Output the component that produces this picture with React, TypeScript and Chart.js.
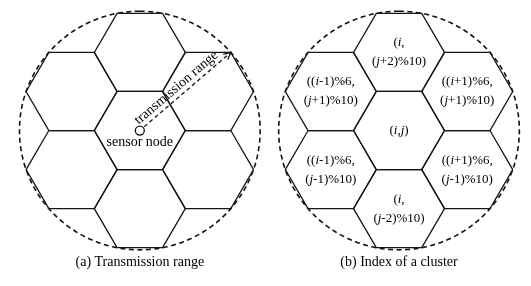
import React, { useEffect, useRef } from "react";
import { Chart, registerables } from "chart.js";

Chart.register(...registerables);

// ---------- data ----------
// cluster offsets in the hexagonal grid (column = i direction, row = j direction)
const clusterCols = [0, 0, 1, 1, 0, -1, -1];
const clusterRows = [0, 2, 1, -1, -2, -1, 1];
const clusterLabels: string[][] = [
  ["(i,j)"],
  ["(i,", "(j+2)%10)"],
  ["((i+1)%6,", "(j+1)%10)"],
  ["((i+1)%6,", "(j-1)%10)"],
  ["(i,", "(j-2)%10)"],
  ["((i-1)%6,", "(j-1)%10)"],
  ["((i-1)%6,", "(j+1)%10)"],
];
const panelCaptions = ["(a) Transmission range", "(b) Index of a cluster"];
const nodeLabel = "sensor node";
const rangeLabel = "transmission range";
// transmission range in units of the hexagon side (reaches the outer vertices)
const transmissionRange = Math.sqrt(7);
// arrow points at the outer vertex of the upper-right cluster
const rangeTarget = { x: 2, y: Math.sqrt(3) };

// ---------- layout ----------
const W = 531;
const H = 286;
const PX_X = 46.5; // pixels per unit horizontally
const PX_Y = 47; // pixels per unit vertically
const X_MIN = -137 / PX_X;
const X_MAX = X_MIN + W / PX_X;
const Y_MAX = 130 / PX_Y;
const Y_MIN = Y_MAX - H / PX_Y;
const panelOffsets = [0, 265 / PX_X];
const CAPTION_Y = Y_MAX - 267 / PX_Y;
const SERIF = '"Liberation Serif", "Times New Roman", serif';
const LINE = "#161616";

const S3 = Math.sqrt(3);

function hexPoints(cx: number, cy: number) {
  const pts = [];
  for (let k = 0; k <= 6; k++) {
    const a = (Math.PI / 3) * k;
    pts.push({ x: cx + Math.cos(a), y: cy + Math.sin(a) });
  }
  return pts;
}

function circlePoints(cx: number, cy: number, r: number) {
  const pts = [];
  const n = 360;
  for (let k = 0; k <= n; k++) {
    const a = (2 * Math.PI * k) / n + Math.PI / 2;
    pts.push({ x: cx + r * Math.cos(a), y: cy + r * Math.sin(a) });
  }
  return pts;
}

function drawRich(ctx: CanvasRenderingContext2D, text: string, cx: number, cy: number, size: number) {
  const segs: { t: string; it: boolean }[] = [];
  for (const ch of text) {
    const it = ch === "i" || ch === "j";
    if (segs.length && segs[segs.length - 1].it === it) segs[segs.length - 1].t += ch;
    else segs.push({ t: ch, it });
  }
  const font = (it: boolean) => `${it ? "italic " : ""}${size}px ${SERIF}`;
  let total = 0;
  const widths = segs.map((s) => {
    ctx.font = font(s.it);
    const w = ctx.measureText(s.t).width;
    total += w;
    return w;
  });
  let x = cx - total / 2;
  ctx.textAlign = "left";
  ctx.textBaseline = "middle";
  segs.forEach((s, i) => {
    ctx.font = font(s.it);
    ctx.fillText(s.t, x, cy);
    x += widths[i];
  });
}

const textPlugin = {
  id: "diagramTexts",
  afterDatasetsDraw(chart: any) {
    const ctx: CanvasRenderingContext2D = chart.ctx;
    const xs = chart.scales.x;
    const ys = chart.scales.y;
    const px = (v: number) => xs.getPixelForValue(v);
    const py = (v: number) => ys.getPixelForValue(v);
    ctx.save();
    ctx.fillStyle = "#000";

    // captions
    panelCaptions.forEach((c, p) => {
      ctx.font = `14px ${SERIF}`;
      ctx.textAlign = "center";
      ctx.textBaseline = "middle";
      ctx.fillText(c, px(panelOffsets[p]), py(CAPTION_Y));
    });

    // panel (a): sensor node label
    ctx.font = `14px ${SERIF}`;
    ctx.textAlign = "center";
    ctx.textBaseline = "middle";
    ctx.fillText(nodeLabel, px(panelOffsets[0]), py(0) + 12);

    // panel (a): rotated range label
    const sx = px(panelOffsets[0]);
    const sy = py(0);
    const ex = px(panelOffsets[0] + rangeTarget.x);
    const ey = py(rangeTarget.y);
    const ang = Math.atan2(ey - sy, ex - sx);
    ctx.save();
    ctx.translate(sx, sy);
    ctx.rotate(ang);
    ctx.font = `14px ${SERIF}`;
    ctx.textAlign = "left";
    ctx.textBaseline = "alphabetic";
    ctx.fillText(rangeLabel, 3, -5);
    ctx.restore();

    // panel (b): cluster indices
    clusterLabels.forEach((lines, k) => {
      const cx = px(panelOffsets[1] + 1.5 * clusterCols[k]);
      const cy = py((S3 / 2) * clusterRows[k]);
      const gap = 19;
      lines.forEach((ln, li) => {
        const y = cy + (li - (lines.length - 1) / 2) * gap;
        drawRich(ctx, ln, cx, y, 13);
      });
    });
    ctx.restore();
  },
};

export default function App() {
  const ref = useRef<HTMLCanvasElement | null>(null);

  useEffect(() => {
    if (!ref.current) return;
    const datasets: any[] = [];

    panelOffsets.forEach((ox) => {
      clusterCols.forEach((c, k) => {
        datasets.push({
          data: hexPoints(ox + 1.5 * c, (S3 / 2) * clusterRows[k]),
          showLine: true,
          borderColor: LINE,
          borderWidth: 1.3,
          pointRadius: 0,
          tension: 0,
          fill: false,
          clip: false,
        });
      });
      datasets.push({
        data: circlePoints(ox, 0, transmissionRange),
        showLine: true,
        borderColor: "#111",
        borderWidth: 1.6,
        borderDash: [5, 3.5],
        pointRadius: 0,
        tension: 0,
        fill: false,
        clip: false,
      });
    });

    // arrow of the transmission range (panel a)
    const ox = panelOffsets[0];
    const len = Math.hypot(rangeTarget.x * PX_X, rangeTarget.y * PX_Y);
    const ux = (rangeTarget.x * PX_X) / len;
    const uy = (rangeTarget.y * PX_Y) / len;
    const startPx = 6;
    datasets.push({
      data: [
        { x: ox + (ux * startPx) / PX_X, y: (uy * startPx) / PX_Y },
        { x: ox + rangeTarget.x, y: rangeTarget.y },
      ],
      showLine: true,
      borderColor: "#111",
      borderWidth: 1.3,
      borderDash: [4, 3],
      pointRadius: 0,
      fill: false,
      clip: false,
    });
    const head = 8;
    const wing = (sgn: number) => {
      const a = Math.atan2(uy, ux) + Math.PI + sgn * 0.45;
      return { x: ox + rangeTarget.x + (Math.cos(a) * head) / PX_X, y: rangeTarget.y + (Math.sin(a) * head) / PX_Y };
    };
    datasets.push({
      data: [wing(1), { x: ox + rangeTarget.x, y: rangeTarget.y }, wing(-1)],
      showLine: true,
      borderColor: "#111",
      borderWidth: 1.3,
      pointRadius: 0,
      fill: false,
      clip: false,
    });
    // sensor node
    datasets.push({
      data: [{ x: ox, y: 0 }],
      showLine: false,
      pointRadius: 4.5,
      pointBorderWidth: 1.3,
      pointBorderColor: "#111",
      pointBackgroundColor: "#fff",
      clip: false,
    });
    datasets.push({
      data: [{ x: ox, y: 0 }],
      showLine: false,
      pointRadius: 1,
      pointBorderWidth: 0,
      pointBackgroundColor: "#111",
      clip: false,
    });

    const chart = new Chart(ref.current, {
      type: "scatter",
      data: { datasets },
      options: {
        responsive: false,
        animation: false,
        events: [],
        layout: { padding: 0 },
        plugins: { legend: { display: false }, tooltip: { enabled: false }, title: { display: false } },
        scales: {
          x: { type: "linear", display: false, min: X_MIN, max: X_MAX },
          y: { type: "linear", display: false, min: Y_MIN, max: Y_MAX },
        },
      },
      plugins: [textPlugin],
    } as any);
    return () => chart.destroy();
  }, []);

  return (
    <div style={{ position: "fixed", left: 0, top: 0, width: W, height: H, background: "#fff" }}>
      <canvas ref={ref} width={W} height={H} style={{ width: W, height: H }} />
    </div>
  );
}
